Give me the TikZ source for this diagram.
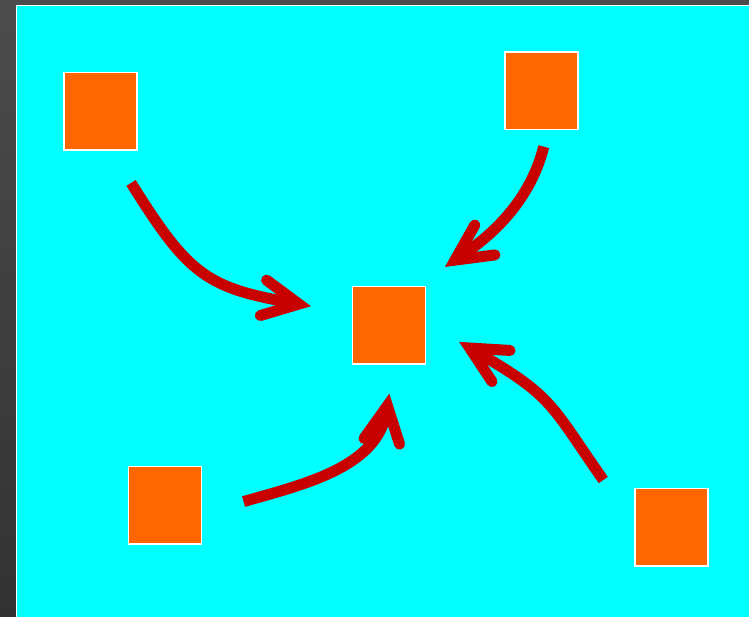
\documentclass[tikz,border=0pt]{standalone}
\usepackage{tikz}
\usetikzlibrary{arrows.meta}
\definecolor{cyanbg}{RGB}{0,255,255}
\definecolor{orangefill}{RGB}{255,102,0}
\definecolor{arrowred}{RGB}{200,0,0}
\definecolor{grayup}{RGB}{76,76,76}
\definecolor{graydown}{RGB}{50,50,50}
\tikzset{
    % thick red arrow with an open head
    redarrow/.style={
        line width=11pt,
        arrowred,
        -{Straight Barb[length=36pt, width=36pt, line cap=round, line join=miter]}
    },
    orangesq/.style={
        draw=white,
        fill=orangefill,
        line width=1.5pt,
        minimum width=73pt,
        minimum height=77.5pt,
        inner sep=0pt
    }
}
\begin{document}
\begin{tikzpicture}[x=1pt, y=1pt]
	\useasboundingbox (0,0) rectangle (749,617);
	\shade[top color=grayup, bottom color=graydown] (0,0) rectangle (749,617);
	\draw[white, line width=1.2pt, fill=cyanbg] (16.5,-5) rectangle (755,611.5);

	\node[orangesq] (tl) at (100.5,505.5) {};
	\node[orangesq] (tr) at (541.5,526) {};
	\node[orangesq] (mid) at (389,291.5) {};
	\node[orangesq] (bl) at (165,111.5) {};
	\node[orangesq] (br) at (671.5,89.5) {};

	\draw[redarrow, shorten <=37.7pt, shorten >=41.4pt] (tl.-75) to[out=-58, in=170, looseness=1.3] (mid.162);
	\draw[redarrow, shorten <=16.7pt, shorten >=34pt] (tr.-81) to[out=-104, in=34] (mid.55);
	\draw[redarrow, shorten <=43pt, shorten >=29pt] (bl.-12) to[out=16, in=-99, looseness=1.1] (mid.-83);
	\draw[redarrow, shorten <=54pt, shorten >=38pt] (br.175) to[out=125, in=-30, looseness=1.3] (mid.4);
\end{tikzpicture}
\end{document}
